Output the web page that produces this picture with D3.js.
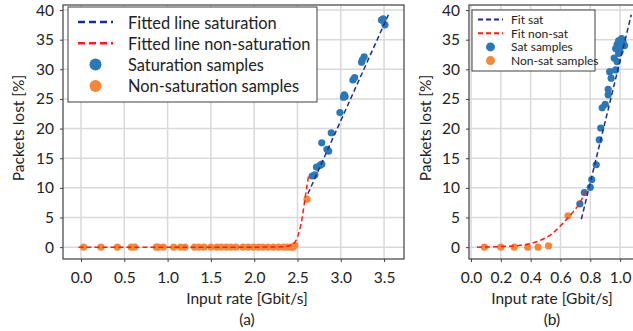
<!DOCTYPE html>
<html>
<head>
<meta charset="utf-8">
<script src="https://cdn.jsdelivr.net/npm/d3@7"></script>
<style>
  html, body { margin: 0; padding: 0; background: #fff; }
  svg { display: block; font-family: Lato, "Open Sans", sans-serif; }
</style>
</head>
<body>
<svg id="chart" width="633" height="331"></svg>
<script>
// ---- panel (a) data ----
const nonSatA = [
  [0.03, 0], [0.23, 0], [0.42, 0], [0.58, 0], [0.62, 0], [0.87, 0], [0.89, 0], [0.95, 0],
  [1.07, 0], [1.15, 0], [1.20, 0], [1.31, 0], [1.36, 0], [1.42, 0], [1.50, 0], [1.57, 0],
  [1.62, 0], [1.68, 0], [1.73, 0], [1.79, 0], [1.87, 0], [1.93, 0], [1.99, 0], [2.05, 0],
  [2.10, 0], [2.16, 0], [2.22, 0], [2.28, 0], [2.34, 0], [2.38, 0], [2.42, 0], [2.45, 0],
  [2.47, 0.3], [2.61, 8.1]
];
const satA = [
  [2.67, 12.0], [2.70, 12.2], [2.72, 13.5], [2.76, 13.8], [2.78, 14.0], [2.78, 17.6],
  [2.84, 16.5], [2.86, 16.2], [2.89, 19.3], [2.99, 22.7], [3.03, 25.3], [3.04, 25.7],
  [3.05, 25.4], [3.14, 28.2], [3.16, 28.6], [3.24, 31.2], [3.25, 31.6], [3.27, 32.1],
  [3.47, 38.3], [3.49, 38.5], [3.51, 37.5]
];
const fitSatAx = [2.62, 3.55];
const fitSatAy = [9.0, 39.2];
const fitNonSatAx = [-0.03, 0.5, 1.0, 1.5, 2.0, 2.3, 2.4, 2.45, 2.5, 2.55, 2.59, 2.63];
const fitNonSatAy = [0, 0, 0, 0, 0, 0.05, 0.2, 0.5, 1.7, 4.6, 8.5, 12.2];
const xTicksA = [0, 0.5, 1.0, 1.5, 2.0, 2.5, 3.0, 3.5];

// ---- panel (b) data ----
const nonSatB = [
  [0.09, 0], [0.20, 0], [0.29, 0], [0.38, 0], [0.45, 0], [0.52, 0.2], [0.65, 5.3]
];
const satB = [
  [0.73, 7.3], [0.76, 9.2], [0.80, 10.1], [0.81, 11.4], [0.84, 13.9], [0.86, 18.1],
  [0.87, 20.1], [0.88, 23.5], [0.90, 24.1], [0.92, 25.7], [0.92, 26.6], [0.93, 29.6],
  [0.94, 28.5], [0.96, 31.9], [0.97, 29.9], [0.98, 31.3], [0.97, 33.5], [0.98, 34.2],
  [0.99, 32.7], [1.00, 33.8], [0.99, 34.8], [1.01, 35.2], [1.02, 34.6], [1.03, 34.0],
  [1.00, 33.0]
];
const fitSatBx = [0.74, 1.075];
const fitSatBy = [4.7, 39.2];
const fitNonSatBx = [0.04, 0.2, 0.33, 0.45, 0.54, 0.60, 0.67, 0.73, 0.78];
const fitNonSatBy = [0, 0.1, 0.3, 1.0, 2.2, 3.6, 5.5, 7.5, 10.0];
const xTicksB = [0, 0.2, 0.4, 0.6, 0.8, 1.0];

const yTicks = [0, 5, 10, 15, 20, 25, 30, 35, 40];

const BLUE_LINE = '#1f2d8a';
const RED_LINE = '#ff1a1a';
const BLUE_DOT = '#2a78b8';
const ORANGE_DOT = '#f5873a';
const FS = 15.5;

const svg = d3.select('#chart');

function drawPanel(cfg) {
  const g = svg.append('g');
  const x = d3.scaleLinear().domain(cfg.xDomain).range([cfg.left, cfg.right]);
  const y = d3.scaleLinear().domain([-2, 40.85]).range([259, 5]);

  const clipId = 'clip_' + cfg.name;
  g.append('clipPath').attr('id', clipId)
    .append('rect')
    .attr('x', cfg.left).attr('y', 5)
    .attr('width', cfg.right - cfg.left).attr('height', 254);

  // grid
  g.append('g').selectAll('line').data(yTicks).join('line')
    .attr('x1', cfg.left).attr('x2', cfg.right)
    .attr('y1', d => y(d)).attr('y2', d => y(d))
    .attr('stroke', '#d9d9d9').attr('stroke-width', 1.5);
  g.append('g').selectAll('line').data(cfg.xTicks).join('line')
    .attr('x1', d => x(d)).attr('x2', d => x(d))
    .attr('y1', 5).attr('y2', 259)
    .attr('stroke', '#d9d9d9').attr('stroke-width', 1.5);

  // axes
  const yAxis = g.append('g').attr('transform', `translate(${cfg.left},0)`)
    .call(d3.axisLeft(y).tickValues(yTicks).tickSize(3).tickPadding(6).tickFormat(d3.format('d')));
  const xAxis = g.append('g').attr('transform', 'translate(0,259)')
    .call(d3.axisBottom(x).tickValues(cfg.xTicks).tickSize(3).tickPadding(10).tickFormat(d3.format('.1f')));
  [yAxis, xAxis].forEach(a => {
    a.select('.domain').remove();
    a.selectAll('line').attr('stroke', '#404040');
    a.selectAll('text').attr('fill', '#222').style('font-size', FS + 'px')
      .style('font-family', 'Lato, sans-serif');
  });

  // frame
  g.append('rect')
    .attr('x', cfg.left).attr('y', 5)
    .attr('width', cfg.right - cfg.left).attr('height', 254)
    .attr('fill', 'none').attr('stroke', '#404040').attr('stroke-width', 1.2);

  const plot = g.append('g').attr('clip-path', `url(#${clipId})`);

  // samples
  plot.append('g').selectAll('circle').data(cfg.nonSat).join('circle')
    .attr('cx', d => x(d[0])).attr('cy', d => y(d[1])).attr('r', 3.6)
    .attr('fill', ORANGE_DOT);
  plot.append('g').selectAll('circle').data(cfg.sat).join('circle')
    .attr('cx', d => x(d[0])).attr('cy', d => y(d[1])).attr('r', 3.6)
    .attr('fill', BLUE_DOT);

  // fitted lines
  const line = d3.line().curve(d3.curveMonotoneX).x(d => x(d[0])).y(d => y(d[1]));
  plot.append('path')
    .attr('d', line(d3.zip(cfg.fitNonSatX, cfg.fitNonSatY)))
    .attr('fill', 'none').attr('stroke', RED_LINE).attr('stroke-width', 1.5)
    .attr('stroke-dasharray', '5,3');
  plot.append('path')
    .attr('d', line(d3.zip(cfg.fitSatX, cfg.fitSatY)))
    .attr('fill', 'none').attr('stroke', BLUE_LINE).attr('stroke-width', 1.5)
    .attr('stroke-dasharray', '5,3');

  // labels
  g.append('text')
    .attr('transform', `translate(${cfg.yLabelX},128) rotate(-90)`)
    .attr('text-anchor', 'middle').attr('dominant-baseline', 'central')
    .style('font-size', FS + 'px').attr('fill', '#222')
    .text('Packets lost [%]');
  g.append('text')
    .attr('x', cfg.labelCx).attr('y', 298)
    .attr('text-anchor', 'middle').attr('dominant-baseline', 'central')
    .style('font-size', FS + 'px').attr('fill', '#222')
    .text('Input rate [Gbit/s]');
  g.append('text')
    .attr('x', cfg.labelCx).attr('y', 319)
    .attr('text-anchor', 'middle').attr('dominant-baseline', 'central')
    .style('font-size', FS + 'px').attr('fill', '#222')
    .text(cfg.caption);

  // legend
  const L = cfg.legend;
  const lg = g.append('g');
  lg.append('rect')
    .attr('x', L.x).attr('y', L.y).attr('width', L.w).attr('height', L.h)
    .attr('fill', '#fff').attr('stroke', '#404040').attr('stroke-width', 1);
  const items = [
    { type: 'line', color: BLUE_LINE, label: L.labels[0] },
    { type: 'line', color: RED_LINE, label: L.labels[1] },
    { type: 'dot', color: BLUE_DOT, label: L.labels[2] },
    { type: 'dot', color: ORANGE_DOT, label: L.labels[3] }
  ];
  items.forEach((it, i) => {
    const cy = L.y0 + i * L.step;
    if (it.type === 'line') {
      lg.append('line')
        .attr('x1', L.lineX0).attr('x2', L.lineX1).attr('y1', cy).attr('y2', cy)
        .attr('stroke', it.color).attr('stroke-width', L.lw)
        .attr('stroke-dasharray', L.dash);
    } else {
      lg.append('circle')
        .attr('cx', (L.lineX0 + L.lineX1) / 2).attr('cy', cy).attr('r', L.r)
        .attr('fill', it.color);
    }
    lg.append('text')
      .attr('x', L.textX).attr('y', cy)
      .attr('dominant-baseline', 'central')
      .style('font-size', L.fs + 'px').attr('fill', '#222')
      .text(it.label);
  });
}

drawPanel({
  name: 'a',
  xDomain: [-0.208, 3.73],
  left: 63, right: 404,
  xTicks: xTicksA,
  nonSat: nonSatA, sat: satA,
  fitSatX: fitSatAx, fitSatY: fitSatAy,
  fitNonSatX: fitNonSatAx, fitNonSatY: fitNonSatAy,
  yLabelX: 18, labelCx: 247, caption: '(a)',
  legend: {
    x: 68, y: 7, w: 249, h: 95, y0: 22, step: 21.3,
    lineX0: 78, lineX1: 113, textX: 128, fs: 16.4, r: 6, lw: 2.5, dash: '7,4',
    labels: ['Fitted line saturation', 'Fitted line non-saturation',
             'Saturation samples', 'Non-saturation samples']
  }
});

drawPanel({
  name: 'b',
  xDomain: [-0.0136, 1.1],
  left: 469, right: 635,
  xTicks: xTicksB,
  nonSat: nonSatB, sat: satB,
  fitSatX: fitSatBx, fitSatY: fitSatBy,
  fitNonSatX: fitNonSatBx, fitNonSatY: fitNonSatBy,
  yLabelX: 425, labelCx: 552, caption: '(b)',
  legend: {
    x: 472, y: 10, w: 123, h: 61, y0: 19.5, step: 13.7,
    lineX0: 478, lineX1: 503, textX: 511, fs: 12, r: 4.5, lw: 2, dash: '5,3',
    labels: ['Fit sat', 'Fit non-sat', 'Sat samples', 'Non-sat samples']
  }
});
</script>
</body>
</html>
